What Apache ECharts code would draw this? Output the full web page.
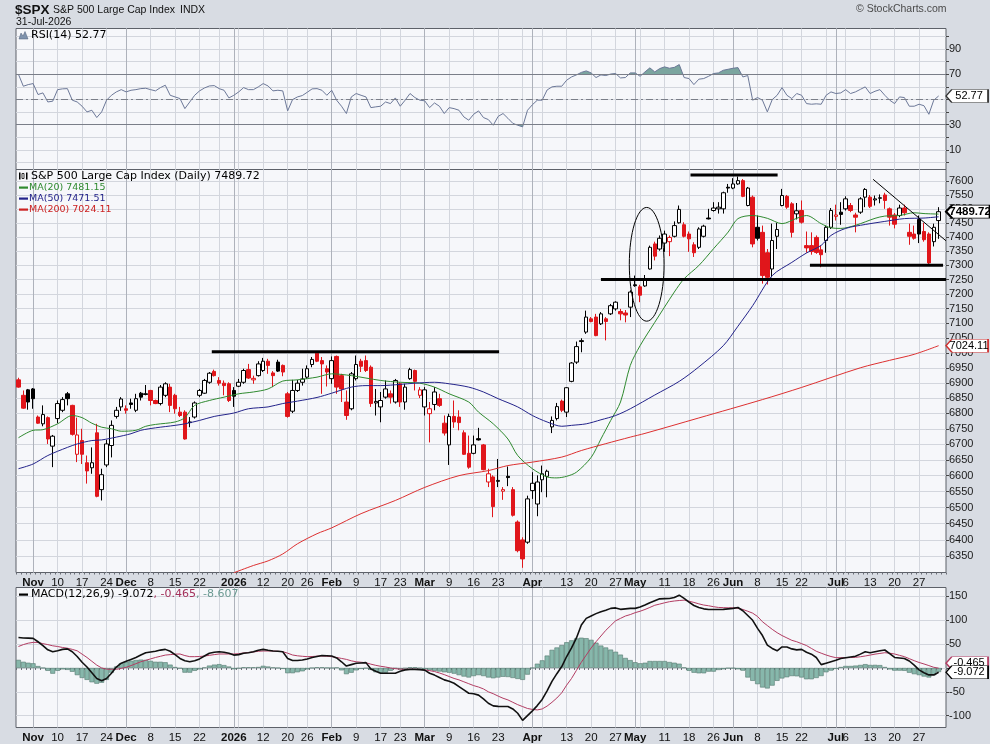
<!DOCTYPE html>
<html><head><meta charset="utf-8">
<script src="https://cdn.jsdelivr.net/npm/echarts@6/dist/echarts.min.js"></script>
<style>html,body{margin:0;padding:0;background:#d8dce3;}#c{width:990px;height:744px;}</style>
</head><body><div id="c"></div>
<script>
// ---------- DATA ----------
const holidays = ['2025-11-27','2025-12-25','2026-01-01','2026-01-19','2026-02-16','2026-04-03','2026-05-25','2026-06-19','2026-07-03'];
const tickLabels = {
 '2025-11-03':'Nov','2025-11-10':'10','2025-11-17':'17','2025-11-24':'24','2025-12-01':'Dec','2025-12-08':'8','2025-12-15':'15','2025-12-22':'22',
 '2026-01-02':'2026','2026-01-12':'12','2026-01-20':'20','2026-01-26':'26','2026-02-02':'Feb','2026-02-09':'9','2026-02-17':'17','2026-02-23':'23',
 '2026-03-02':'Mar','2026-03-09':'9','2026-03-16':'16','2026-03-23':'23','2026-04-01':'Apr','2026-04-13':'13','2026-04-20':'20','2026-04-27':'27',
 '2026-05-01':'May','2026-05-11':'11','2026-05-18':'18','2026-05-26':'26','2026-06-01':'Jun','2026-06-08':'8','2026-06-15':'15','2026-06-22':'22',
 '2026-07-01':'Jul','2026-07-06':'6','2026-07-13':'13','2026-07-20':'20','2026-07-27':'27'};
const boldLabels = ['Nov','Dec','2026','Feb','Mar','Apr','May','Jun','Jul'];
const priceTicks = [6350,6400,6450,6500,6550,6600,6650,6700,6750,6800,6850,6900,6950,7000,7050,7100,7150,7200,7250,7300,7350,7400,7450,7500,7550,7600];
const rsiGridTicks = [0,10,20,30,40,50,60,70,80,90,100];
const rsiLabelTicks = [10,30,50,70,90];
const macdTicks = [-100,-50,0,50,100,150];

// daily candles [open, high, low, close]
const candles = [
[6910,6917,6884,6886],[6859,6875,6815,6817],[6877,6880,6812,6837],[6880,6883,6815,6848],[6788,6793,6766,6768],
[6766,6826,6758,6796],[6786,6790,6701,6717],[6694,6730,6627,6726],[6783,6842,6768,6832],[6810,6853,6804,6845],
[6864,6870,6826,6848],[6826,6828,6728,6732],[6668,6786,6643,6730],[6712,6750,6637,6668],[6641,6664,6575,6615],
[6625,6690,6606,6641],[6737,6766,6532,6535],[6556,6622,6522,6603],[6634,6714,6627,6701],[6696,6777,6658,6761],
[6790,6821,6783,6810],[6821,6853,6808,6847],[6815,6826,6799,6810],[6834,6848,6815,6829],[6810,6864,6804,6848],
[6866,6870,6842,6853],[6864,6893,6859,6862],[6875,6877,6826,6842],[6842,6845,6830,6832],[6832,6893,6826,6886],
[6859,6902,6853,6897],[6886,6897,6804,6826],[6859,6864,6799,6815],[6804,6821,6788,6793],[6804,6810,6715,6717],
[6772,6788,6755,6770],[6788,6839,6783,6834],[6859,6880,6853,6875],[6866,6913,6864,6908],[6902,6936,6897,6932],
[6938,6944,6921,6924],[6908,6919,6891,6899],[6899,6908,6859,6891],[6897,6902,6837,6842],[6875,6886,6821,6856],
[6889,6913,6886,6902],[6902,6947,6897,6941],[6944,6963,6913,6916],[6910,6924,6897,6915],[6924,6972,6921,6963],
[6941,6983,6936,6972],[6972,6980,6930,6958],[6933,6939,6886,6924],[6969,6977,6936,6939],[6958,6961,6922,6936],
[6864,6870,6786,6790],[6807,6910,6801,6875],[6875,6910,6870,6899],[6902,6947,6891,6913],[6919,6958,6913,6947],
[6961,6986,6952,6978],[6999,7002,6969,6972],[6974,6986,6864,6963],[6947,6958,6888,6936],[6914,6988,6897,6974],
[6988,6991,6864,6886],[6924,6930,6837,6880],[6837,6875,6779,6793],[6815,6936,6810,6930],[6914,6991,6908,6961],
[6972,6980,6936,6955],[6974,6991,6936,6941],[6952,6958,6821,6832],[6834,6880,6793,6839],[6821,6870,6771,6842],
[6853,6908,6848,6880],[6864,6875,6832,6853],[6837,6913,6832,6908],[6897,6902,6821,6837],[6837,6897,6812,6886],
[6914,6950,6910,6944],[6941,6944,6875,6905],[6859,6886,6850,6877],[6821,6886,6793,6877],[6799,6837,6706,6815],
[6829,6886,6810,6870],[6848,6864,6821,6826],[6768,6793,6728,6736],[6698,6799,6634,6790],[6790,6842,6753,6772],
[6788,6810,6745,6770],[6737,6745,6666,6668],[6671,6728,6622,6627],[6671,6728,6668,6698],[6718,6753,6712,6714],
[6698,6701,6617,6619],[6580,6622,6564,6606],[6596,6601,6470,6503],[6582,6653,6564,6585],[6551,6564,6524,6556],
[6598,6629,6567,6594],[6556,6564,6472,6476],[6455,6460,6362,6367],[6400,6408,6315,6342],[6393,6537,6388,6527],
[6553,6611,6527,6576],[6511,6601,6473,6580],[6587,6632,6548,6606],[6598,6619,6532,6614],[6756,6790,6736,6777],
[6783,6834,6777,6822],[6840,6845,6804,6810],[6804,6886,6788,6884],[6905,6969,6902,6966],[6969,7038,6963,7021],
[7041,7049,7002,7038],[7070,7143,7064,7121],[7115,7121,7103,7106],[7121,7132,7056,7058],[7098,7138,7094,7132],
[7115,7121,7042,7106],[7132,7166,7128,7160],[7149,7175,7143,7172],[7140,7149,7110,7132],[7135,7145,7103,7128],
[7155,7213,7121,7207],[7232,7264,7225,7229],[7225,7232,7172,7196],[7228,7266,7225,7247],[7287,7369,7285,7363],
[7375,7383,7317,7332],[7357,7405,7351,7395],[7378,7422,7347,7410],[7383,7405,7332,7398],[7402,7455,7398,7440],
[7450,7512,7447,7498],[7443,7452,7398,7402],[7410,7419,7347,7393],[7372,7381,7329,7344],[7363,7434,7357,7428],
[7402,7443,7398,7438],[7467,7500,7462,7464],[7494,7524,7490,7503],[7500,7524,7483,7506],[7500,7562,7483,7558],
[7578,7590,7558,7575],[7575,7611,7571,7590],[7590,7617,7587,7602],[7602,7608,7542,7545],[7512,7579,7509,7575],
[7542,7548,7363,7375],[7434,7476,7387,7395],[7416,7440,7236,7264],[7344,7357,7233,7258],[7287,7447,7258,7387],
[7402,7450,7357,7426],[7512,7572,7509,7548],[7545,7550,7500,7506],[7518,7524,7398,7416],[7482,7521,7462,7493],
[7494,7530,7447,7452],[7369,7419,7344,7361],[7369,7416,7337,7348],[7398,7405,7340,7345],[7354,7369,7293,7337],
[7387,7440,7344,7434],[7434,7503,7428,7494],[7473,7515,7458,7478],[7488,7524,7443,7480],[7500,7545,7494,7536],
[7512,7521,7488,7494],[7478,7486,7416,7470],[7488,7542,7482,7536],[7542,7575,7506,7570],[7542,7550,7503,7509],
[7532,7548,7512,7536],[7538,7552,7520,7540],[7550,7558,7500,7530],[7500,7505,7440,7470],[7478,7485,7430,7445],
[7476,7515,7470,7503],[7503,7515,7476,7486],[7416,7447,7372,7402],[7410,7440,7390,7395],[7462,7476,7378,7410],
[7419,7450,7383,7390],[7410,7416,7303,7308],[7383,7447,7366,7434],[7458,7506,7393,7489.72]];

// moving averages at [tradingDayIndex, value]
const ma20 = [[0,6721],[3,6745],[5,6747],[8,6766],[11,6793],[13,6786],[15,6768],[17,6755],[19,6750],[21,6742],[24,6745],[26,6758],[28,6764],[32,6772],[34,6786],[36,6826],[39,6842],[42,6853],[45,6864],[48,6870],[51,6880],[54,6906],[57,6910],[61,6919],[64,6930],[68,6924],[74,6908],[78,6902],[82,6899],[85,6886],[88,6864],[92,6837],[94,6804],[97,6766],[100,6717],[102,6664],[105,6622],[108,6596],[110,6593],[112,6598],[114,6611],[117,6658],[119,6717],[121,6777],[123,6837],[125,6958],[127,7024],[130,7103],[134,7207],[136,7253],[139,7299],[142,7358],[145,7417],[147,7465],[150,7476],[153,7466],[156,7447],[159,7466],[161,7476],[164,7447],[166,7432],[168,7430],[171,7441],[175,7466],[177,7474],[180,7476],[183,7486],[185,7483],[188,7481.15]];
const ma50 = [[0,6622],[3,6637],[6,6664],[10,6690],[12,6701],[15,6712],[17,6714],[20,6723],[23,6734],[25,6745],[28,6753],[32,6761],[34,6766],[37,6777],[40,6790],[44,6801],[47,6815],[51,6821],[54,6832],[57,6840],[61,6852],[64,6866],[68,6886],[71,6891],[74,6891],[78,6895],[81,6899],[85,6902],[88,6897],[92,6886],[95,6870],[98,6848],[102,6821],[105,6793],[108,6772],[111,6758],[113,6761],[116,6766],[119,6779],[122,6793],[125,6815],[130,6860],[135,6905],[139,6953],[144,7024],[147,7090],[150,7160],[154,7264],[158,7310],[161,7343],[164,7370],[166,7405],[169,7430],[173,7444],[177,7455],[181,7465],[185,7467],[188,7471.51]];
const ma200 = [[44,6300],[48,6322],[51,6336],[54,6357],[57,6388],[61,6419],[64,6437],[70,6481],[77,6522],[83,6563],[90,6600],[96,6616],[100,6632],[105,6643],[111,6659],[115,6680],[120,6702],[125,6723],[128,6735],[139,6785],[152,6845],[160,6885],[172,6950],[178,6975],[183,6995],[188,7024.11]];

const rsi = [70.0,60.5,61.8,62.6,53.9,55.2,48.0,48.6,57.8,58.4,
58.6,49.4,48.0,44.6,40.1,41.4,35.6,40.1,49.4,53.3,
56.0,57.8,56.0,57.3,57.8,58.6,58.9,57.8,56.8,59.4,
61.3,53.3,52.0,50.7,42.7,48.0,53.3,56.8,59.1,60.7,
61.0,58.6,57.3,51.2,53.3,56.0,59.4,57.8,57.8,60.0,
62.6,60.7,56.8,57.3,56.8,40.9,49.9,52.0,53.1,55.7,
58.4,58.6,57.3,53.3,57.3,49.4,44.6,38.8,52.0,54.7,
53.3,52.0,43.5,44.1,44.6,48.0,46.7,51.2,44.6,49.4,
54.7,51.5,49.4,48.9,43.5,47.2,44.6,38.8,43.5,42.7,
41.4,36.1,33.5,38.2,40.9,35.6,34.0,29.5,36.5,38.8,
35.0,31.0,29.5,28.2,41.4,45.8,49.4,49.4,57.5,60.0,
60.5,60.5,65.3,67.9,69.5,71.5,72.7,71.1,67.4,69.5,
69.0,70.2,70.6,67.1,67.4,71.1,71.1,68.4,71.9,75.1,
71.9,74.5,75.9,74.8,75.5,77.7,67.4,66.6,61.8,66.1,
66.6,68.4,70.6,71.1,73.2,74.0,74.8,75.3,67.9,69.0,
49.4,51.5,49.4,40.1,49.9,53.3,59.4,53.3,50.7,54.7,
53.3,46.7,46.2,46.5,46.2,53.3,56.0,54.7,55.2,57.8,
54.7,56.0,58.0,60.0,54.7,56.5,57.8,53.3,49.4,46.7,
52.0,51.5,44.6,44.6,46.2,45.0,38.2,49.4,52.77];

const macd = [64,63,62.5,62,55,47,38,34,36,39,
40,34,24,12,2,-10,-22,-27,-22,-11,
2,10,14,18,22,27,32,33.5,35,37.5,
39,35,28,20,15,13,15,19,25,31,
33,34,33,31,27,28,31,32,34,37,
39,37,35.5,35,34,20,15.5,15.5,16.7,19,
22,24,26,25.5,25,21,13,4,7,9.8,
10.5,11.2,-2,-7,-11,-11.2,-11.2,-11,-7,-4,
-3,-3,-3.5,-4.5,-11,-15,-20,-25,-28,-32,
-39,-46,-53,-54,-57,-65,-74,-79.5,-80.5,-81,
-81,-86,-95,-110,-100,-90,-79,-66,-48,-28,
-12,3,24,42,63,90,104,109,114,118,
121,125,126,123,124,125,125,128,132,137,
141,145,145.5,145.7,148,152.7,146,138,131,127,
124,122.7,122.7,122.7,123,124,125,126.9,120,110,
100,83,68,48,41,36,44,44,40,38,
39,33,29,22,7,10,13,16,20,21.5,
23,24.5,29,34,32,34,36,37.7,30,22,
21,20,14.6,6,-4,-10,-14.6,-14.6,-9.072];
const signal = [45,49,52,53.7,53.5,51,49,46.5,45,43,
41.5,39,36,29,22,14,6,0,-2.5,-2.8,
-2.8,-1,1.4,5,9,13,16,19,22,24.5,
27,28,29,29.3,26,23.7,23.7,24,25,26.5,
28,29.3,29.3,29.3,29.3,30,31.5,32.5,33.5,35,
35.6,35.6,35.6,35,34.2,31,27.2,25.5,24.5,23.7,
24,24.8,25,24.5,23.7,22,20,18,15,13,
12,11,8,5.5,3.5,2,0,-1.5,-2.5,-2.8,
-2.8,-2.8,-3,-4,-5.6,-7.5,-10.5,-14,-18,-22,
-25,-29,-33,-37,-40,-44,-50,-54,-59,-63.5,
-67,-72,-77,-81,-85,-87,-88,-86,-80,-72,
-63,-52,-36,-22,-5,12,27,42,55,67,
79,89,99,104,109,112,116,119,122.7,127,
131.5,134,136.7,139,140.5,141.5,142.3,140,137.5,134.5,
132,130.5,128.5,127,126.5,126.2,126.2,125,122.7,119,
115,108,97,89,81,74,68,63,58,55,
51,47,41,35,31,27.2,24,21.6,21.6,21.6,
21.8,22.3,23.5,25.1,27,29,30.5,32,31,29.3,
26.5,23.7,19.5,15.3,11.5,8.4,5,1.4,-0.465];
const histogram = [17,13,11,9.8,4,0,-6,-12,-6,-3,
-4,-8,-15,-21,-25,-30,-33,-31,-25,-10,
3,10,13,15,16.7,17.5,17,15,13,13,
12,7,2,-1,-9.8,-9.8,-6,-3,1,5,
7,8,6,3,-2.8,-1,1.4,1.4,1.4,2,
4.5,3,1,0,-2,-11,-11,-9,-7,-3,
0,1.4,1.4,0.5,0,1,-5,-13,-10,-5,
-2,-0.7,-4,-9,-11,-10,-6,-1,-3,-1,
1.4,1.4,-0.5,-2.8,-4.5,-6,-7.5,-9,-10,-12,
-15,-18,-20,-17,-15,-17,-20,-21.6,-20,-18.5,
-19,-21,-23,-25,-14,0,9,16,26,38,
43,48,54,58,62,63.5,62.5,59,53,47,
43,38.5,34,28,21,16.5,12,9.8,11,14.6,
14.6,14.6,14.6,12.5,11,9,1,-6,-10,-11.2,
-11.2,-7.7,-7.7,-4.2,-2.8,-0.7,-0.7,-2.8,-5.6,-20,
-27,-34,-41,-43,-37,-27,-22,-19.5,-17,-17.5,
-20,-23.7,-23.7,-21,-17,-9,-5.5,-2,2,4.2,
4.2,5,6.3,8,6.3,6.5,6,2,-3,-5.6,
-5.6,-6,-10,-13,-15,-18,-20,-15,-8.607];

// hand-drawn annotations in data space: [dayIndex, price]
const annoLines = [
 {from:[39.5,7004], to:[98.2,7004], w:3},
 {from:[137.3,7623], to:[155.1,7623], w:3},
 {from:[119.0,7250], to:[189.5,7250], w:3},
 {from:[161.7,7300], to:[188.9,7300], w:3},
 {from:[174.6,7607], to:[189.5,7386], w:1}
];
const annoEllipse = {left:124.8, right:131.9, top:7505, bottom:7107};

// ---------- BUILD ----------
function buildDays(){
  const out=[]; const d=new Date(Date.UTC(2025,9,29)); const end=Date.UTC(2026,6,31);
  while(d.getTime()<=end){const wd=d.getUTCDay(); const s=d.toISOString().slice(0,10);
    if(wd>0&&wd<6&&holidays.indexOf(s)<0) out.push(s); d.setUTCDate(d.getUTCDate()+1);}
  return out;
}
const days = buildDays();
const cats = days.concat(['']);
const gridSet = new Set(), monthSet = new Set();
for(let i=1;i<days.length;i++){
  const a=new Date(days[i-1]+'T00:00:00Z'), b=new Date(days[i]+'T00:00:00Z');
  if(b.getUTCDay()<a.getUTCDay()) gridSet.add(days[i]);
  if(b.getUTCMonth()!==a.getUTCMonth()){gridSet.add(days[i]); monthSet.add(days[i]);}
}
const L = Math.log;
const RED = '#e0161b';
const candleData = candles.map((r,i)=>{
  const o=r[0],h=r[1],l=r[2],c=r[3];
  const prev = i>0 ? candles[i-1][3] : o;
  const edge = c < prev ? RED : '#000';
  const fill = c > o ? '#ffffff' : edge;
  return {value:[L(o),L(c),L(l),L(h)], itemStyle:{color:fill,color0:fill,borderColor:edge,borderColor0:edge,borderColorDoji:edge,borderWidth:1}};
});
const logPairs = a => a.map(p=>[p[0], L(p[1])]);
const FONT = 'Liberation Sans';
const gridLineColor = '#d3d6dd';

function xMain(gi, labels){
  return {type:'category', gridIndex:gi, data:cats, boundaryGap:true, position:'bottom',
    axisLine:{show:false},
    axisTick:{show:labels, interval:0, length:2, lineStyle:{color:'#6a6e76',width:1}},
    axisLabel:{show:labels, interval:(i,v)=>Object.prototype.hasOwnProperty.call(tickLabels,v),
      formatter:(v)=>{const t=tickLabels[v]; if(t===undefined) return ''; return boldLabels.indexOf(t)>=0?'{b|'+t+'}':t;},
      margin:4, fontSize:11.5, color:'#111', fontFamily:FONT, hideOverlap:false,
      rich:{b:{fontWeight:'bold', fontSize:11.5, color:'#111', fontFamily:FONT}}},
    splitLine:{show:true, alignWithLabel:true, interval:(i,v)=>gridSet.has(v), lineStyle:{color:gridLineColor,width:1}},
    axisPointer:{show:false}};
}
function xMonth(gi){
  return {type:'category', gridIndex:gi, data:cats, boundaryGap:true, position:'top',
    axisLine:{show:false}, axisTick:{show:false}, axisLabel:{show:false},
    splitLine:{show:true, alignWithLabel:true, interval:(i,v)=>monthSet.has(v), lineStyle:{color:'#aeb2bb',width:1}}};
}
function yAx(gi, min, max, tickVals, labelVals, fmt){
  return {type:'value', gridIndex:gi, position:'right', min:min, max:max,
    axisLine:{show:false},
    axisTick:{show:true, length:3, inside:false, customValues:tickVals, lineStyle:{color:'#444'}},
    axisLabel:{show:true, customValues:labelVals, margin:3, color:'#1a1a1a', fontSize:11, fontFamily:FONT, formatter:fmt},
    splitLine:{show:true, customValues:tickVals, lineStyle:{color:gridLineColor,width:1}}};
}
function tag(y, text, border, o){
  o=o||{};
  const w=o.w||42;
  return {coord:[188,y], symbol:'path://M0,6L6,0L44,0L44,12L6,12Z', symbolSize:[w,13], symbolKeepAspect:false,
    symbolOffset:[7.4+w/2, o.dy||0],
    itemStyle:{color:'#fff', borderColor:border, borderWidth:o.bw||1},
    label:{show:true, position:'inside', formatter:text, color:'#000', fontSize:o.fs||11, fontWeight:o.bold?'bold':'normal', fontFamily:FONT, offset:[2,0]}};
}
function mp(items){return {silent:true, animation:false, data:items};}

const priceLn = priceTicks.map(L);
const gridBase = {show:true, backgroundColor:'#f6f7fa', borderColor:'#5d6169', borderWidth:1, containLabel:false, outerBoundsMode:'none'};

const option = {
  animation:false,
  backgroundColor:'#d8dce3',
  textStyle:{fontFamily:FONT},
  grid:[
    Object.assign({left:16, top:28.5, width:930, height:141}, gridBase),
    Object.assign({left:16, top:169.5, width:930, height:403}, gridBase),
    Object.assign({left:16, top:587.5, width:930, height:140}, gridBase)
  ],
  xAxis:[xMain(0,false), xMonth(0), xMain(1,true), xMonth(1), xMain(2,true), xMonth(2)],
  yAxis:[
    yAx(0, -5.7, 106.4, rsiGridTicks, rsiLabelTicks, v=>String(v)),
    yAx(1, L(6300.8), L(7642.7), priceLn, priceLn, v=>String(Math.round(Math.exp(v)))),
    yAx(2, -124.9, 168.8, macdTicks, macdTicks, v=>String(v))
  ],
  visualMap:[{type:'piecewise', show:false, seriesIndex:1, dimension:1,
    pieces:[{gt:70, color:'#7ba59f'},{lt:30, color:'#7ba59f'},{gte:30, lte:70, color:'rgba(255,255,255,0)'}]}],
  series:[
    {name:'RSI', type:'line', xAxisIndex:0, yAxisIndex:0, data:rsi, showSymbol:false, symbol:'none', z:4,
      lineStyle:{color:'#6c7898', width:1}, itemStyle:{color:'#6c7898'},
      markLine:{silent:true, symbol:'none', animation:false, label:{show:false},
        data:[{yAxis:70, lineStyle:{color:'#7a7e88', width:1, type:'solid'}},
              {yAxis:30, lineStyle:{color:'#7a7e88', width:1, type:'solid'}},
              {yAxis:50, lineStyle:{color:'#7a7e88', width:1, type:[7,3,2,3]}}]},
      markPoint:mp([tag(52.77,'52.77','#333')])},
    {name:'RSIfill', type:'line', xAxisIndex:0, yAxisIndex:0, data:rsi, showSymbol:false, symbol:'none', z:3,
      lineStyle:{width:0}, areaStyle:{origin:70, opacity:1}},
    {name:'Price', type:'candlestick', xAxisIndex:2, yAxisIndex:1, data:candleData, barWidth:4, z:3,
      markPoint:mp([tag(L(7489.72),'7489.72','#000',{bold:true,bw:1.5,w:44,fs:11.5})])},
    {name:'MA20', type:'line', xAxisIndex:2, yAxisIndex:1, data:logPairs(ma20), showSymbol:false, symbol:'none', smooth:0.3, z:4,
      lineStyle:{color:'#2f8a2f', width:1}},
    {name:'MA50', type:'line', xAxisIndex:2, yAxisIndex:1, data:logPairs(ma50), showSymbol:false, symbol:'none', smooth:0.3, z:4,
      lineStyle:{color:'#23238a', width:1}},
    {name:'MA200', type:'line', xAxisIndex:2, yAxisIndex:1, data:logPairs(ma200), showSymbol:false, symbol:'none', smooth:0.3, z:4,
      lineStyle:{color:'#dd3030', width:1},
      markPoint:mp([tag(L(7024.11),'7024.11','#d03030')])},
    {name:'Hist', type:'bar', xAxisIndex:4, yAxisIndex:2, data:histogram, barWidth:'100%', z:2,
      itemStyle:{color:'#87b7ab', borderColor:'#54786f', borderWidth:0.6}},
    {name:'Signal', type:'line', xAxisIndex:4, yAxisIndex:2, data:signal, showSymbol:false, symbol:'none', z:4,
      lineStyle:{color:'#b23c62', width:1},
      markPoint:mp([tag(-0.465,'-0.465','#b23c62',{dy:-5})])},
    {name:'MACD', type:'line', xAxisIndex:4, yAxisIndex:2, data:macd, showSymbol:false, symbol:'none', z:5,
      lineStyle:{color:'#111', width:1.6},
      markPoint:mp([tag(-9.072,'-9.072','#000')])}
  ]
};

const chart = echarts.init(document.getElementById('c'), null, {renderer:'canvas', width:990, height:744});
chart.setOption(option);

// ---------- annotations and texts ----------
const fz = {xAxisIndex:2, yAxisIndex:1};
const p0 = chart.convertToPixel(fz,[0,L(7000)]), p1 = chart.convertToPixel(fz,[1,L(7000)]);
const band = p1[0]-p0[0];
function pt(ix, price){ const y = chart.convertToPixel(fz,[0,L(price)])[1]; return [p0[0]+ix*band, y]; }
const g = [];
annoLines.forEach(a=>{ const A=pt(a.from[0],a.from[1]), B=pt(a.to[0],a.to[1]);
  g.push({type:'line', z:50, silent:true, shape:{x1:A[0],y1:A[1],x2:B[0],y2:B[1]}, style:{stroke:'#000', lineWidth:a.w}}); });
{ const tl=pt(annoEllipse.left,annoEllipse.top), br=pt(annoEllipse.right,annoEllipse.bottom);
  g.push({type:'ellipse', z:50, silent:true, shape:{cx:(tl[0]+br[0])/2, cy:(tl[1]+br[1])/2, rx:(br[0]-tl[0])/2, ry:(br[1]-tl[1])/2}, style:{fill:'none', stroke:'#000', lineWidth:1}}); }

function txt(x,y,text,font,fill,extra){ return Object.assign({type:'text', x:x, y:y, z:60, silent:true, style:{text:text, font:font, fill:fill||'#111', verticalAlign:'middle', align:'left'}}, extra||{}); }
g.push(txt(15,10,'$SPX','bold 13.5px "Liberation Sans"','#111'));
g.push(txt(53,10,'S&P 500 Large Cap Index','10.5px "Liberation Sans"','#111'));
g.push(txt(180,10,'INDX','10.5px "Liberation Sans"','#111'));
g.push(txt(16,22.5,'31-Jul-2026','10.5px "Liberation Sans"','#111'));
g.push(txt(856,9.5,'© StockCharts.com','10.5px "Liberation Sans"','#4a4a4a'));
// RSI legend
g.push({type:'polygon', z:60, silent:true, shape:{points:[[19,39],[21,33],[23,36],[25,31.5],[28,39]]}, style:{fill:'#7f93ad', stroke:'#4f5f78', lineWidth:0.5}});
g.push(txt(31,35,'RSI(14) 52.77','11px "DejaVu Sans"','#000'));
// Price legend
g.push({type:'rect', z:60, silent:true, shape:{x:19,y:172.5,width:1.5,height:7}, style:{fill:'#000'}});
g.push({type:'rect', z:60, silent:true, shape:{x:22,y:173.5,width:2,height:5}, style:{fill:'#fff',stroke:'#000',lineWidth:0.8}});
g.push({type:'rect', z:60, silent:true, shape:{x:26,y:172.5,width:1.5,height:7}, style:{fill:'#000'}});
g.push(txt(31,176.5,'S&P 500 Large Cap Index (Daily) 7489.72','11px "DejaVu Sans"','#000'));
[[187.5,'MA(20) 7481.15','#2f8a2f'],[198.5,'MA(50) 7471.51','#23238a'],[209.5,'MA(200) 7024.11','#cc2222']].forEach(r=>{
  g.push({type:'rect', z:60, silent:true, shape:{x:19,y:r[0]-1,width:9,height:2.2}, style:{fill:r[2]}});
  g.push(txt(29,r[0],r[1],'9.5px "DejaVu Sans"',r[2]));
});
// MACD legend
g.push({type:'rect', z:60, silent:true, shape:{x:19,y:593.5,width:9,height:2.2}, style:{fill:'#000'}});
g.push({type:'text', x:31, y:594.5, z:60, silent:true, style:{text:'{a|MACD(12,26,9) -9.072}{b|, -0.465}{c|, -8.607}', verticalAlign:'middle', align:'left',
  rich:{a:{font:'11px "DejaVu Sans"', fill:'#000'}, b:{font:'11px "DejaVu Sans"', fill:'#a3305a'}, c:{font:'11px "DejaVu Sans"', fill:'#6b9a92'}}}});
chart.setOption({graphic:g});
</script></body></html>
